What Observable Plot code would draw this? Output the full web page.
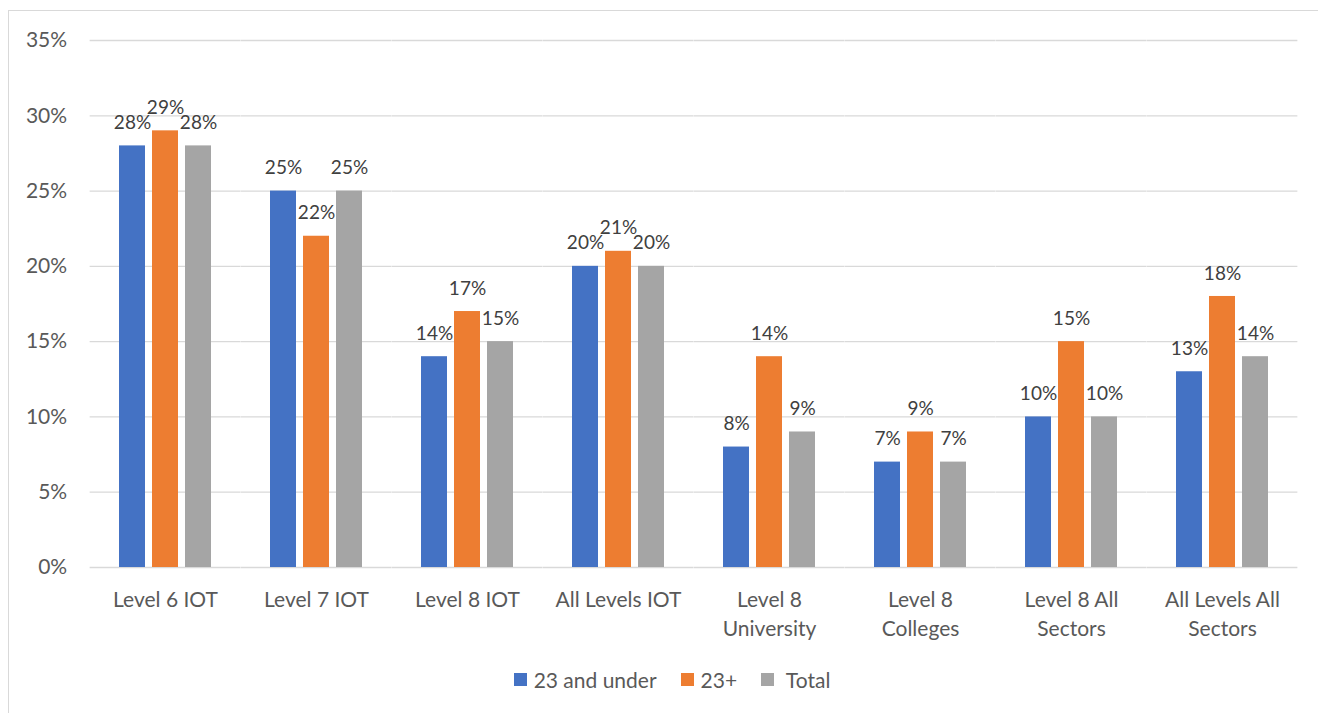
<!DOCTYPE html>
<html>
<head>
<meta charset="utf-8">
<script src="https://cdn.jsdelivr.net/npm/d3@7"></script>
<script src="https://cdn.jsdelivr.net/npm/@observablehq/plot@0.6"></script>
<style>
  body { margin: 0; background: #fff; font-family: Lato, "Open Sans", sans-serif; }
  #frame { position: absolute; left: 8px; top: 10px; width: 1400px; height: 800px; border-left: 1.5px solid #d9d9d9; border-top: 1.5px solid #d9d9d9; }
  #chart { position: absolute; left: 0; top: 0; }
  #legend { position: absolute; top: 667px; left: 0; width: 1318px; display: flex; justify-content: center; padding-left: 26px; box-sizing: border-box; font-size: 21px; color: #595959; }
  .item { display: flex; align-items: center; margin: 0 12px; }
  .sw { width: 13px; height: 13px; margin-right: 7px; }
</style>
</head>
<body>
<div id="frame"></div>
<div id="chart"></div>
<div id="legend"></div>
<script>
const categories = ["Level 6 IOT","Level 7 IOT","Level 8 IOT","All Levels IOT","Level 8\nUniversity","Level 8\nColleges","Level 8 All\nSectors","All Levels All\nSectors"];
const seriesNames = ["23 and under","23+","Total"];
const under23 = [28,25,14,20,8,7,10,13];
const over23 = [29,22,17,21,14,9,15,18];
const total = [28,25,15,20,9,7,10,14];
const colors = ["#4472C4","#ED7D31","#A5A5A5"];
const yTicks = [0,5,10,15,20,25,30,35];

const seriesValues = [under23, over23, total];
const data = [];
categories.forEach((c, i) => {
  seriesNames.forEach((s, j) => data.push({category: c, series: s, value: seriesValues[j][i]}));
});

const W = 1318, mL = 89, mR = 19;
const step = (W - mL - mR) / categories.length;
const padIn = 0.375;
const ext = -step * padIn / 2;

const chart = Plot.plot({
  width: W,
  height: 650,
  marginLeft: mL,
  marginRight: mR,
  marginTop: 40,
  marginBottom: 83,
  style: {fontFamily: "Lato, 'Open Sans', sans-serif", background: "transparent"},
  fx: {domain: categories, paddingInner: padIn, paddingOuter: padIn / 2, label: null},
  x: {domain: seriesNames, paddingInner: 0.2, paddingOuter: 0, axis: null},
  y: {domain: [0, 35], label: null},
  color: {domain: seriesNames, range: colors},
  marks: [
    Plot.ruleY(yTicks, {stroke: "#d9d9d9", strokeWidth: 1.3, insetLeft: ext, insetRight: ext}),
    Plot.axisY(yTicks, {tickSize: 0, tickPadding: 23, dx: ext, tickFormat: d => d + "%", fontSize: 21, fill: "#595959", label: null}),
    Plot.axisFx({anchor: "bottom", tickSize: 0, tickPadding: 19, fontSize: 21, fill: "#595959", lineHeight: 1.38, label: null}),
    Plot.barY(data, {fx: "category", x: "series", y: "value", fill: "series"}),
    Plot.text(data, {fx: "category", x: "series", y: "value", text: d => d.value + "%", dy: -23, fontSize: 19, fill: "#404040"})
  ]
});
document.getElementById("chart").appendChild(chart);

const legend = document.getElementById("legend");
seriesNames.forEach((s, j) => {
  const it = document.createElement("div");
  it.className = "item";
  it.innerHTML = `<div class="sw" style="background:${colors[j]}"></div><span>${s === "Total" ? "&nbsp;" + s : s}</span>`;
  legend.appendChild(it);
});
</script>
</body>
</html>
